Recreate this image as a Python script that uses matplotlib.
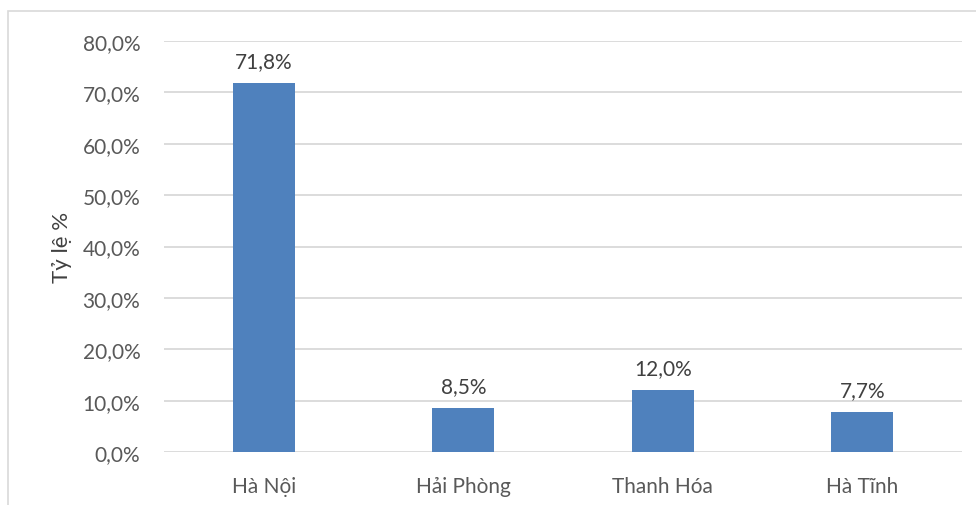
import matplotlib
matplotlib.use("Agg")
import matplotlib.pyplot as plt
from matplotlib.patches import Rectangle

# tỷ lệ theo tỉnh
provinces = ["Hà Nội", "Hải Phòng", "Thanh Hóa", "Hà Tĩnh"]
rates = [71.8, 8.5, 12.0, 7.7]
yticks = [0, 10, 20, 30, 40, 50, 60, 70, 80]

plt.rcParams['font.family'] = ['Lato', 'DejaVu Sans']
txt = '#595959'

fig = plt.figure(figsize=(9.76, 5.06), dpi=100)
ax = fig.add_axes([164 / 976, 1 - 453 / 506, (962 - 164) / 976, (453 - 42) / 506])

# outer frame of the chart area
fig.patches.append(Rectangle((8 / 976, -0.1), 1.2, 1.1 - 12 / 506,
                             transform=fig.transFigure, fill=False,
                             edgecolor='#d9d9d9', linewidth=1.2))

x = range(len(provinces))
ax.bar(x, rates, width=0.31, color='#4f81bd', zorder=3)
for xi, v in zip(x, rates):
    ax.text(xi, v + 2.4, f"{v:.1f}%".replace('.', ','), ha='center', va='bottom',
            fontsize=15, color='#404040')

ax.set_xlim(-0.5, len(provinces) - 0.5)
ax.set_ylim(0, 80)
ax.set_yticks(yticks)
ax.set_yticklabels([f"{t:.1f}%".replace('.', ',') for t in yticks])
ax.set_xticks(list(x))
ax.set_xticklabels(provinces)
ax.tick_params(axis='both', length=0, labelsize=15, labelcolor=txt)
ax.tick_params(axis='y', pad=17)
ax.tick_params(axis='x', pad=17)
ax.grid(axis='y', color='#d9d9d9', linewidth=1.3, zorder=0)
for s in ax.spines.values():
    s.set_visible(False)
ax.set_ylabel("Tỷ lệ %", fontsize=16, color='#404040', labelpad=8)

fig.savefig("out.png", dpi=100)
